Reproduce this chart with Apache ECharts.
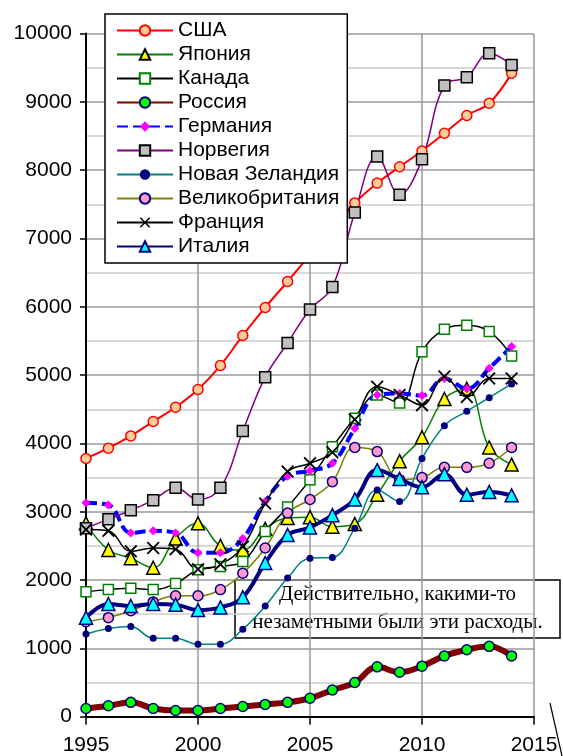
<!DOCTYPE html>
<html>
<head>
<meta charset="utf-8">
<script src="https://cdn.jsdelivr.net/npm/echarts@6/dist/echarts.min.js"></script>
<style>
  html, body { margin: 0; padding: 0; background: #fff; }
  #chart { width: 563px; height: 756px; }
</style>
</head>
<body>
<div id="chart"></div>
<script>
// data
const years = [1995, 1996, 1997, 1998, 1999, 2000, 2001, 2002, 2003, 2004,
               2005, 2006, 2007, 2008, 2009, 2010, 2011, 2012, 2013, 2014]

const usa     = [3780, 3930, 4110, 4320, 4530, 4790, 5140, 5580, 5990, 6370, 6760, 7140, 7520, 7810, 8050, 8280, 8540, 8800, 8980, 9420]
const japan   = [2830, 2440, 2320, 2180, 2610, 2830, 2500, 2440, 2750, 2910, 2920, 2780, 2820, 3250, 3740, 4090, 4650, 4800, 3940, 3690]
const canada  = [1830, 1860, 1880, 1860, 1950, 2150, 2200, 2270, 2710, 3070, 3470, 3950, 4370, 4710, 4590, 5340, 5670, 5730, 5640, 5280]
const russia  = [120, 160, 210, 120, 90, 90, 120, 150, 180, 210, 270, 390, 500, 730, 650, 740, 890, 980, 1030, 890]
const germany = [3130, 3100, 2690, 2720, 2690, 2400, 2400, 2610, 3150, 3520, 3600, 3710, 4220, 4710, 4730, 4700, 4950, 4800, 5100, 5420]
const norway  = [2760, 2890, 3020, 3170, 3350, 3180, 3350, 4180, 4970, 5470, 5960, 6290, 7380, 8200, 7640, 8160, 9240, 9360, 9710, 9540]
const newZealand = [1210, 1290, 1320, 1150, 1150, 1060, 1060, 1280, 1620, 2030, 2320, 2330, 2760, 3320, 3150, 3780, 4260, 4470, 4670, 4870]
const uk      = [1390, 1450, 1550, 1680, 1770, 1770, 1860, 2100, 2470, 2980, 3180, 3440, 3940, 3880, 3470, 3500, 3650, 3650, 3710, 3940]
const france  = [2740, 2720, 2420, 2470, 2450, 2160, 2230, 2490, 3120, 3590, 3710, 3870, 4350, 4830, 4710, 4560, 4980, 4680, 4950, 4950]
const italy   = [1450, 1650, 1620, 1650, 1640, 1560, 1600, 1750, 2250, 2660, 2770, 2950, 3180, 3610, 3480, 3360, 3550, 3250, 3290, 3240]

const names = ['США', 'Япония', 'Канада', 'Россия', 'Германия', 'Норвегия',
               'Новая Зеландия', 'Великобритания', 'Франция', 'Италия']

const noteLines = ['Действительно, какими-то', 'незаметными были эти расходы.']

const crossPath = 'path://M0,1L1,0L5,4L9,0L10,1L6,5L10,9L9,10L5,6L1,10L0,9L4,5Z'

function pairs(vals) {
  return vals.map((v, i) => [years[i], v])
}

function line(name, vals, lineStyle, symbol, size, itemStyle) {
  return {
    name: name,
    type: 'line',
    data: pairs(vals),
    smooth: 0.4,
    symbol: symbol,
    symbolSize: size,
    showSymbol: true,
    lineStyle: lineStyle,
    itemStyle: itemStyle,
    emphasis: { disabled: true },
    animation: false
  }
}

const chart = echarts.init(document.getElementById('chart'))

const option = {
  animation: false,
  textStyle: { fontFamily: 'Liberation Sans, Arial, sans-serif' },
  grid: { left: 86, right: 29, top: 33.5, bottom: 39.3, containLabel: false },
  legend: {
    data: names,
    orient: 'vertical',
    left: 105,
    top: 14,
    padding: [6, 8, 6, 11],
    itemWidth: 56,
    itemHeight: 13,
    itemGap: 3,
    backgroundColor: '#fff',
    borderColor: '#000',
    borderWidth: 1.5,
    textStyle: { fontSize: 21, lineHeight: 20, color: '#000', fontFamily: 'Liberation Sans, Arial, sans-serif' },
    z: 10
  },
  xAxis: {
    type: 'value',
    min: 1995,
    max: 2015,
    interval: 5,
    axisLine: { show: true, onZero: false, lineStyle: { color: '#000', width: 2 } },
    axisTick: { show: true, length: 8, lineStyle: { color: '#000', width: 1.5 } },
    axisLabel: { fontSize: 21, color: '#000', margin: 18, formatter: v => String(v) },
    splitLine: { show: true, lineStyle: { color: '#999', width: 1.5 } }
  },
  yAxis: {
    type: 'value',
    min: 0,
    max: 10000,
    interval: 1000,
    axisLine: { show: true, lineStyle: { color: '#000', width: 2 } },
    axisTick: { show: true, length: 6, lineStyle: { color: '#000', width: 1.5 } },
    axisLabel: { fontSize: 21, color: '#000', margin: 14, formatter: v => String(v) },
    splitLine: { show: true, lineStyle: { color: '#9a9a9a', width: 1.5 } },
    minorTick: { show: false, splitNumber: 2 },
    minorSplitLine: { show: true, lineStyle: { color: '#cccccc', width: 1.5 } }
  },
  series: [
    line(names[0], usa, { color: '#ff0000', width: 2 }, 'circle', 10,
      { color: '#ffcc99', borderColor: '#ff0000', borderWidth: 1.5 }),
    line(names[1], japan, { color: '#008000', width: 1.5 }, 'triangle', 13,
      { color: '#ffff00', borderColor: '#000', borderWidth: 1.5 }),
    line(names[2], canada, { color: '#000', width: 1.5 }, 'rect', 10,
      { color: '#fff', borderColor: '#008000', borderWidth: 1.5 }),
    line(names[3], russia, { color: '#800000', width: 6 }, 'circle', 10,
      { color: '#00ff00', borderColor: '#000080', borderWidth: 1.5 }),
    line(names[4], germany, { color: '#0000ff', width: 4, type: [11, 5] }, 'diamond', 9,
      { color: '#ff00ff', borderWidth: 0 }),
    line(names[5], norway, { color: '#800080', width: 1.5 }, 'rect', 11,
      { color: '#c0c0c0', borderColor: '#000', borderWidth: 1.5 }),
    line(names[6], newZealand, { color: '#008080', width: 1.5 }, 'circle', 7,
      { color: '#000080', borderWidth: 0 }),
    line(names[7], uk, { color: '#808000', width: 1.5 }, 'circle', 10,
      { color: '#ff99cc', borderColor: '#000080', borderWidth: 1.5 }),
    line(names[8], france, { color: '#000', width: 1.5 }, crossPath, 13,
      { color: '#000', borderWidth: 0 }),
    line(names[9], italy, { color: '#000080', width: 4 }, 'triangle', 13,
      { color: '#00ffff', borderColor: '#000080', borderWidth: 1.5 })
  ],
  graphic: [
    {
      type: 'group',
      z: 20,
      children: [
        {
          type: 'rect',
          shape: { x: 235, y: 580, width: 325, height: 58 },
          style: { fill: '#fff', stroke: '#000', lineWidth: 1.5 }
        },
        {
          type: 'text',
          x: 397.5, y: 594,
          style: { text: noteLines[0], fontFamily: 'Liberation Serif, Times New Roman, serif', fontSize: 21, fill: '#000', align: 'center', verticalAlign: 'middle' }
        },
        {
          type: 'text',
          x: 397.5, y: 622,
          style: { text: noteLines[1], fontFamily: 'Liberation Serif, Times New Roman, serif', fontSize: 21, fill: '#000', align: 'center', verticalAlign: 'middle' }
        },
        {
          type: 'line',
          shape: { x1: 550, y1: 703, x2: 562, y2: 756 },
          style: { stroke: '#000', lineWidth: 1.2 }
        }
      ]
    }
  ]
}

chart.setOption(option)
</script>
</body>
</html>
